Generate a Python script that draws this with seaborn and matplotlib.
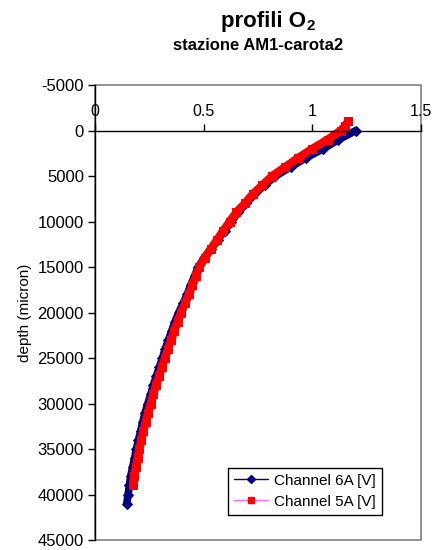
import numpy as np
import pandas as pd
import matplotlib
matplotlib.use("Agg")
import matplotlib.pyplot as plt
from matplotlib.patches import Rectangle
from matplotlib.lines import Line2D
import seaborn as sns

# data (x = signal [V], y = depth in micron)
depth_6a = [0, 1000, 2000, 3000, 4000, 5000, 6000, 7000, 8000, 9000, 10000,
            11000, 12000, 13000, 14000, 15000, 16000, 17000, 18000, 19000, 20000,
            21000, 22000, 23000, 24000, 25000, 26000, 27000, 28000, 29000, 30000,
            31000, 32000, 33000, 34000, 35000, 36000, 37000, 38000, 39000, 40000, 41000]
ch_6a = [1.20, 1.12, 1.05, 0.97, 0.90, 0.83, 0.78, 0.733, 0.695, 0.658, 0.627,
         0.596, 0.565, 0.533, 0.502, 0.475, 0.458, 0.44, 0.424, 0.405, 0.385,
         0.368, 0.353, 0.338, 0.323, 0.310, 0.296, 0.282, 0.268, 0.256, 0.243,
         0.230, 0.220, 0.210, 0.200, 0.190, 0.182, 0.173, 0.164, 0.158, 0.152, 0.146]

depth_5a = [-1000, -500, 0, 1000, 2000, 3000, 4000, 5000, 6000, 7000, 8000, 9000,
            10000, 11000, 12000, 13000, 14000, 15000, 16000, 17000, 18000, 19000,
            20000, 21000, 22000, 23000, 24000, 25000, 26000, 27000, 28000, 29000,
            30000, 31000, 32000, 33000, 34000, 35000, 36000, 37000, 38000, 39000]
ch_5a = [1.165, 1.15, 1.13, 1.07, 1.00, 0.935, 0.875, 0.815, 0.77, 0.725, 0.69, 0.65,
         0.62, 0.59, 0.562, 0.533, 0.505, 0.48, 0.465, 0.448, 0.432, 0.414,
         0.396, 0.38, 0.365, 0.35, 0.336, 0.322, 0.308, 0.295, 0.28, 0.268,
         0.256, 0.244, 0.233, 0.223, 0.213, 0.204, 0.196, 0.188, 0.18, 0.175]

labels = ["Channel 6A [V]", "Channel 5A [V]"]
x_ticks = [0, 0.5, 1, 1.5]
y_ticks = list(range(-5000, 45001, 5000))

sns.set_style("white")
plt.rcParams['font.family'] = ['Liberation Sans', 'DejaVu Sans']
plt.rcParams['text.color'] = 'black'
plt.rcParams['axes.labelcolor'] = 'black'
plt.rcParams['xtick.color'] = 'black'
plt.rcParams['ytick.color'] = 'black'

fig = plt.figure(figsize=(4.32, 5.5), dpi=100)
ax = fig.add_axes([0.22, 0.018, 0.7545, 0.8273])

navy = "#000080"
red = "#ff0000"

sns.lineplot(x=ch_6a, y=depth_6a, sort=False, estimator=None, ax=ax,
             color=navy, linewidth=5.5, marker="D", markersize=5.5,
             markeredgecolor=navy, markerfacecolor=navy)
sns.lineplot(x=ch_5a, y=depth_5a, sort=False, estimator=None, ax=ax,
             color=red, linewidth=6, marker="s", markersize=6,
             markeredgecolor=red, markerfacecolor=red)

ax.set_xlim(0, 1.5)
ax.set_ylim(45000, -5000)
ax.set_xticks(x_ticks)
ax.set_xticklabels(["0", "0.5", "1", "1.5"])
ax.set_yticks(y_ticks)
ax.set_yticklabels([str(v) for v in y_ticks])

# x axis crossing at depth 0, labels above
ax.spines['top'].set_position(('data', 0))
ax.spines['top'].set_color('black')
ax.spines['top'].set_linewidth(1)
ax.xaxis.set_ticks_position('top')
ax.xaxis.set_label_position('top')
ax.tick_params(axis='x', direction='out', length=5, width=1, color='black',
               labelsize=11.5, pad=3)
ax.spines['bottom'].set_visible(False)
ax.spines['right'].set_visible(False)
ax.spines['left'].set_color('black')
ax.spines['left'].set_linewidth(1)
ax.tick_params(axis='y', direction='out', length=5, width=1, color='black',
               labelsize=12, pad=3, left=True)

# gray plot-area frame
ax.add_patch(Rectangle((0, 0), 1, 1, transform=ax.transAxes, fill=False,
                       edgecolor='#808080', linewidth=1.2, clip_on=False, zorder=0))

ax.set_xlabel("")
ax.set_ylabel("depth (micron)", fontsize=11, labelpad=4)

handles = [
    Line2D([], [], color=navy, linewidth=1, marker="D", markersize=4.5,
           markerfacecolor=navy, markeredgecolor=navy),
    Line2D([], [], color="#ff66ff", linewidth=1, marker="s", markersize=4.5,
           markerfacecolor=red, markeredgecolor=red),
]
leg = ax.legend(handles, labels, loc='lower right', bbox_to_anchor=(0.88, 0.056),
                fontsize=11, frameon=True, fancybox=False, framealpha=1,
                edgecolor='black', borderpad=0.4, labelspacing=0.45,
                handlelength=2.2, handletextpad=0.4, borderaxespad=0)
leg.get_frame().set_linewidth(1)

fig.text(0.708, 0.961, "profili O", ha='right', va='center', fontsize=16,
         fontweight='bold')
fig.text(0.709, 0.953, "2", ha='left', va='center', fontsize=11,
         fontweight='bold')
fig.text(0.597, 0.918, "stazione AM1-carota2", ha='center', va='center',
         fontsize=12, fontweight='bold')

fig.savefig("out.png", dpi=100)
